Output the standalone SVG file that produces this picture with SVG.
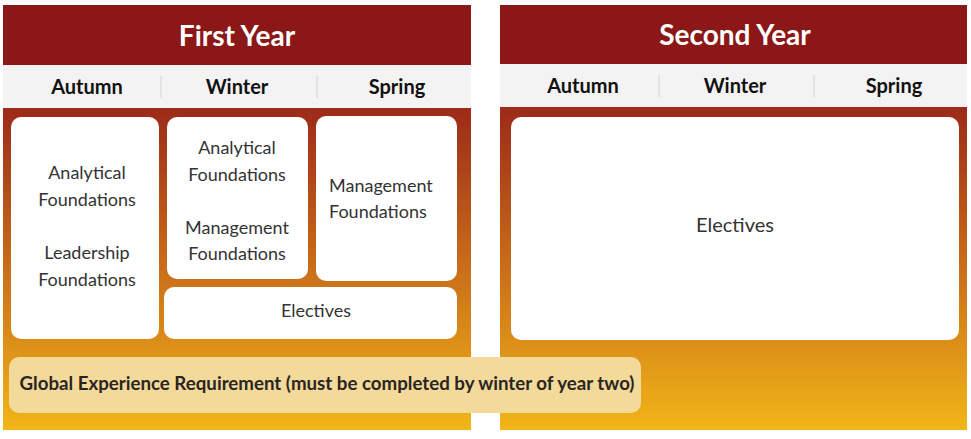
<svg xmlns="http://www.w3.org/2000/svg" width="971" height="439" viewBox="0 0 971 439">
<defs>
<linearGradient id="body" x1="0" y1="108" x2="0" y2="430" gradientUnits="userSpaceOnUse">
<stop offset="0" stop-color="#9c2a19"/>
<stop offset="0.5" stop-color="#c96e1a"/>
<stop offset="1" stop-color="#f1b617"/>
</linearGradient>
<style>
.hdr{fill:#8b1717}
.sub{fill:#f3f3f3}
.div{stroke:#dddddd;stroke-width:1.5}
.box{fill:#ffffff}
.ttl{font-family:Lato,"Liberation Sans",sans-serif;font-weight:bold;font-size:28px;fill:#ffffff;text-anchor:middle}
.sea{font-family:Lato,"Liberation Sans",sans-serif;font-weight:bold;font-size:20px;fill:#111111;text-anchor:middle}
.t{font-family:Lato,"Liberation Sans",sans-serif;font-size:18px;fill:#333333;text-anchor:middle}
.ts{font-family:Lato,"Liberation Sans",sans-serif;font-size:18px;fill:#333333;text-anchor:start}
.tl{font-family:Lato,"Liberation Sans",sans-serif;font-size:20px;fill:#333333;text-anchor:middle}
.g{font-family:Lato,"Liberation Sans",sans-serif;font-weight:bold;font-size:18.7px;fill:#2a2522;text-anchor:middle}
</style>
</defs>
<rect width="971" height="439" fill="#ffffff"/>
<g id="first-year">
<rect class="hdr" x="3" y="5" width="468" height="60"/>
<rect class="sub" x="3" y="65" width="468" height="43"/>
<rect x="3" y="108" width="468" height="322" fill="url(#body)"/>
<line class="div" x1="161" y1="76" x2="161" y2="98"/>
<line class="div" x1="317" y1="76" x2="317" y2="98"/>
<text class="ttl" x="237" y="46">First Year</text>
<text class="sea" x="87" y="94">Autumn</text>
<text class="sea" x="237" y="94">Winter</text>
<text class="sea" x="397" y="94">Spring</text>
</g>
<g id="second-year">
<rect class="hdr" x="500" y="5" width="467" height="59"/>
<rect class="sub" x="500" y="64" width="467" height="43"/>
<rect x="500" y="107" width="467" height="323" fill="url(#body)"/>
<line class="div" x1="659" y1="75" x2="659" y2="97"/>
<line class="div" x1="814" y1="75" x2="814" y2="97"/>
<text class="ttl" x="735" y="45">Second Year</text>
<text class="sea" x="583" y="93">Autumn</text>
<text class="sea" x="735" y="93">Winter</text>
<text class="sea" x="894" y="93">Spring</text>
</g>
<g id="y1-autumn">
<rect class="box" x="11" y="117" width="148" height="222" rx="10"/>
<text class="t" x="87" y="179">Analytical</text>
<text class="t" x="87" y="206">Foundations</text>
<text class="t" x="87" y="259">Leadership</text>
<text class="t" x="87" y="286">Foundations</text>
</g>
<g id="y1-winter">
<rect class="box" x="167" y="117" width="141" height="162" rx="10"/>
<text class="t" x="237" y="154">Analytical</text>
<text class="t" x="237" y="181">Foundations</text>
<text class="t" x="237" y="234">Management</text>
<text class="t" x="237" y="260">Foundations</text>
</g>
<g id="y1-spring">
<rect class="box" x="316" y="116" width="141" height="165" rx="10"/>
<text class="ts" x="329" y="192">Management</text>
<text class="ts" x="329" y="218">Foundations</text>
</g>
<g id="y1-electives">
<rect class="box" x="164" y="287" width="293" height="52" rx="10"/>
<text class="t" x="316" y="317">Electives</text>
</g>
<g id="y2-electives">
<rect class="box" x="511" y="117" width="448" height="223" rx="10"/>
<text class="tl" x="735" y="232">Electives</text>
</g>
<g id="global">
<rect x="9" y="357" width="632" height="56" rx="10" fill="#f3d99a"/>
<text class="g" x="327" y="390">Global Experience Requirement (must be completed by winter of year two)</text>
</g>
<g id="connectors"/>
</svg>
